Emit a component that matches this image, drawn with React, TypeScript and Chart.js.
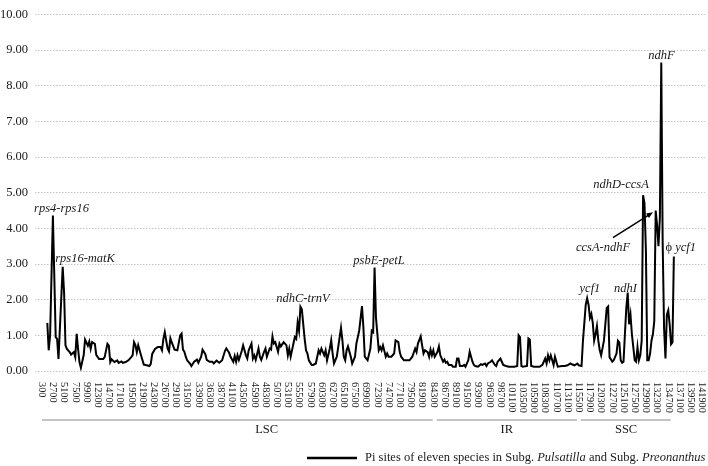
import React, { useEffect, useRef } from 'react';
import { Chart, registerables } from 'chart.js';

Chart.register(...registerables);

// Window mid-points (bp) and nucleotide diversity values (Pi, shown x100 as in source)
const POSITIONS = [
  1500, 1800, 2100, 2700, 3300, 3600, 3900, 4800, 5100, 5400, 5700, 6300, 6600, 7200, 7500, 7800, 8100, 8400, 8700, 9300,
  9600, 10200, 10500, 10800, 11100, 11700, 12000, 12600, 13500, 13800, 14400, 14700, 15000, 15300, 15900, 16500, 16800, 17400, 17700, 18300,
  18900, 19500, 19800, 20100, 20400, 20700, 21000, 21600, 22200, 22800, 23400, 23700, 24000, 24600, 25200, 25800, 26100, 26400, 26700, 27000,
  27300, 27600, 27900, 28200, 28800, 29400, 30000, 30300, 30600, 30900, 31200, 31500, 32100, 32400, 33000, 33600, 33900, 34500, 34800, 35400,
  35700, 36300, 36900, 37200, 37800, 38400, 39000, 39600, 39900, 40500, 40800, 41400, 41700, 42000, 42300, 42600, 43200, 43500, 44100, 44400,
  44700, 45300, 45600, 45900, 46200, 46800, 47100, 47400, 48000, 48300, 48600, 49200, 49500, 49800, 50100, 50400, 51000, 51300, 51600, 52200,
  52800, 53100, 53400, 53700, 54300, 54600, 54900, 55200, 55500, 55800, 56100, 56700, 57000, 57300, 57600, 58200, 58500, 59100, 59700, 60000,
  60300, 60900, 61200, 61500, 62100, 62400, 62700, 63000, 63600, 63900, 64500, 64800, 65100, 65400, 65700, 66000, 66600, 66900, 67500, 67800,
  68400, 69000, 69300, 69600, 70200, 70800, 71100, 71400, 71700, 72000, 72600, 72900, 73200, 73500, 74100, 74400, 74700, 75300, 75900, 76200,
  76800, 77100, 77400, 78000, 78600, 79200, 79800, 80400, 80700, 81000, 81600, 81900, 82200, 82500, 83100, 83400, 83700, 84000, 84300, 84600,
  85200, 85500, 85800, 86400, 86700, 87000, 87300, 87600, 88200, 88500, 89100, 89400, 89700, 90000, 90600, 90900, 91200, 91800, 92100, 92700,
  93000, 93300, 93900, 94500, 94800, 95400, 95700, 96000, 96600, 96900, 97500, 97800, 98100, 98700, 99000, 99300, 99900, 100500, 101100, 101700,
  102300, 102600, 102900, 103200, 103500, 104400, 104700, 105000, 105300, 105900, 106500, 107100, 107700, 108300, 108600, 108900, 109200, 109500, 110100, 110400,
  110700, 111000, 111900, 112500, 113100, 113700, 114000, 114600, 115200, 115500, 116100, 116400, 117000, 117300, 117600, 117900, 118200, 118500, 118800, 119100,
  119400, 119700, 120000, 120300, 120900, 121200, 121500, 121800, 122100, 122700, 123000, 123600, 123900, 124200, 124500, 124800, 125100, 125400, 125700, 126000,
  126300, 126600, 126900, 127200, 127500, 127800, 128100, 128400, 128700, 129000, 129300, 129600, 129900, 130200, 130500, 130800, 131100, 131400, 131700, 132000,
  132300, 132600, 132900, 133200, 133500, 133800, 134100, 134400, 134700, 135000, 135300, 135600, 135900,
];

const PI_VALUES = [
  1.35, 0.58, 1.0, 4.36, 0.95, 0.9, 0.34, 2.92, 2.2, 0.72, 0.62, 0.53, 0.46, 0.53, 0.39, 1.04, 0.62, 0.25, 0.09, 0.44,
  0.88, 0.71, 0.83, 0.62, 0.81, 0.76, 0.45, 0.34, 0.34, 0.39, 0.76, 0.71, 0.25, 0.33, 0.25, 0.3, 0.23, 0.27, 0.23, 0.25,
  0.3, 0.39, 0.44, 0.81, 0.73, 0.53, 0.72, 0.44, 0.18, 0.16, 0.14, 0.2, 0.48, 0.62, 0.67, 0.67, 0.58, 0.9, 1.09, 0.86,
  0.63, 0.55, 0.92, 0.8, 0.6, 0.58, 1.0, 1.05, 0.6, 0.54, 0.4, 0.3, 0.21, 0.14, 0.26, 0.32, 0.23, 0.4, 0.6, 0.47,
  0.31, 0.26, 0.26, 0.21, 0.29, 0.23, 0.3, 0.56, 0.63, 0.51, 0.4, 0.26, 0.42, 0.26, 0.44, 0.31, 0.56, 0.72, 0.44, 0.35,
  0.58, 0.77, 0.35, 0.44, 0.31, 0.63, 0.4, 0.31, 0.54, 0.63, 0.4, 0.63, 0.6, 0.97, 0.77, 0.81, 0.54, 0.77, 0.69, 0.81,
  0.72, 0.44, 0.63, 0.4, 0.77, 0.95, 0.9, 1.36, 1.13, 1.8, 1.73, 0.9, 0.58, 0.49, 0.3, 0.17, 0.17, 0.21, 0.58, 0.49,
  0.63, 0.44, 0.58, 0.3, 0.63, 0.86, 0.49, 0.21, 0.4, 0.67, 1.21, 0.86, 0.4, 0.3, 0.58, 0.69, 0.4, 0.21, 0.4, 0.77,
  1.13, 1.82, 1.23, 0.4, 0.3, 0.63, 1.13, 1.09, 2.9, 1.5, 0.58, 0.67, 0.58, 0.72, 0.4, 0.49, 0.4, 0.4, 0.49, 0.86,
  0.81, 0.53, 0.4, 0.3, 0.3, 0.3, 0.4, 0.63, 0.53, 0.77, 0.97, 0.72, 0.49, 0.58, 0.53, 0.4, 0.6, 0.44, 0.58, 0.4,
  0.54, 0.69, 0.44, 0.26, 0.32, 0.23, 0.26, 0.17, 0.17, 0.12, 0.12, 0.35, 0.35, 0.14, 0.14, 0.17, 0.12, 0.3, 0.54, 0.26,
  0.17, 0.14, 0.12, 0.19, 0.17, 0.21, 0.14, 0.21, 0.26, 0.3, 0.17, 0.14, 0.26, 0.35, 0.26, 0.17, 0.14, 0.12, 0.12, 0.12,
  0.14, 1.0, 0.95, 0.14, 0.12, 0.14, 0.91, 0.88, 0.14, 0.12, 0.12, 0.12, 0.17, 0.35, 0.21, 0.44, 0.3, 0.44, 0.17, 0.4,
  0.26, 0.12, 0.14, 0.14, 0.16, 0.21, 0.19, 0.16, 0.21, 0.16, 0.14, 0.85, 1.86, 2.04, 1.86, 1.49, 1.6, 1.36, 0.85, 1.03,
  1.26, 0.85, 0.58, 0.44, 0.85, 1.31, 1.77, 1.81, 0.39, 0.26, 0.3, 0.49, 0.85, 0.8, 0.3, 0.23, 0.26, 1.03, 1.77, 2.2,
  1.31, 1.58, 1.03, 0.67, 0.3, 0.26, 0.67, 0.3, 0.44, 0.85, 4.93, 4.7, 3.4, 0.3, 0.3, 0.49, 0.85, 1.03, 1.4, 4.5,
  4.1, 3.5, 4.3, 8.65, 3.6, 1.2, 0.35, 1.58, 1.7, 1.31, 0.75, 0.8, 3.21,
];

const X_TICK_LABELS = [
  '300', '2700', '5100', '7500', '9900', '12300', '14700', '17100', '19500', '21900',
  '24300', '26700', '29100', '31500', '33900', '36300', '38700', '41100', '43500', '45900',
  '48300', '50700', '53100', '55500', '57900', '60300', '62700', '65100', '67500', '69900',
  '72300', '74700', '77100', '79500', '81900', '84300', '86700', '89100', '91500', '93900',
  '96300', '98700', '101100', '103500', '105900', '108300', '110700', '113100', '115500', '117900',
  '120300', '122700', '125100', '127500', '129900', '132300', '134700', '137100', '139500', '141900',
];

const REGION_NAMES = ['LSC', 'IR', 'SSC'];
const REGION_STARTS = [360, 85030, 115920];
const REGION_ENDS = [84170, 115120, 135230];
const REGION_LABEL_AT = [48560, 100080, 125650];

const ANNOTATION_TEXTS = ['rps4-rps16', 'rps16-matK', 'ndhC-trnV', 'psbE-petL', 'ndhF', 'ndhD-ccsA', 'ccsA-ndhF', 'ycf1', 'ndhI'];
const ANNOTATION_X = [4550, 9590, 56350, 72650, 133250, 124560, 120700, 117900, 125520];
const ANNOTATION_Y = [4.56, 3.16, 2.03, 3.08, 8.85, 5.23, 3.46, 2.31, 2.31];
const PSEUDO_TEXT = ['ϕ', ' ycf1'];
const PSEUDO_X = 134120;
const PSEUDO_Y = 3.46;

const ARROW_FROM = [122840, 3.74];
const ARROW_TO = [131420, 4.45];

const LEGEND_PARTS = ['Pi sites of eleven species in Subg. ', 'Pulsatilla', ' and Subg. ', 'Preonanthus'];
const LEGEND_ITALIC = [false, true, false, true];

const SERIF = "'Liberation Serif', 'Times New Roman', serif";
const TEXT_COLOR = '#1a1a1a';

const overlayPlugin = {
  id: 'overlay',
  afterDraw(chart: any) {
    const ctx: CanvasRenderingContext2D = chart.ctx;
    const xs = chart.scales.x;
    const ys = chart.scales.y;
    const area = chart.chartArea;
    ctx.save();

    // x tick labels, reading top-to-bottom
    ctx.fillStyle = TEXT_COLOR;
    ctx.font = `10.3px ${SERIF}`;
    ctx.textAlign = 'left';
    ctx.textBaseline = 'middle';
    X_TICK_LABELS.forEach((lab) => {
      const px = xs.getPixelForValue(Number(lab));
      ctx.save();
      ctx.translate(px, area.bottom + 11);
      ctx.rotate(Math.PI / 2);
      ctx.fillText(lab, 0, 0);
      ctx.restore();
    });

    // region bars
    const barY = area.bottom + 49;
    ctx.strokeStyle = '#c4c4c4';
    ctx.lineWidth = 2;
    REGION_NAMES.forEach((name, i) => {
      ctx.beginPath();
      ctx.moveTo(xs.getPixelForValue(REGION_STARTS[i]), barY);
      ctx.lineTo(xs.getPixelForValue(REGION_ENDS[i]), barY);
      ctx.stroke();
      ctx.fillStyle = TEXT_COLOR;
      ctx.font = `12.5px ${SERIF}`;
      ctx.textAlign = 'center';
      ctx.textBaseline = 'middle';
      ctx.fillText(name, xs.getPixelForValue(REGION_LABEL_AT[i]), barY + 10);
    });

    // annotations
    ctx.font = `italic 12.5px ${SERIF}`;
    ctx.textAlign = 'center';
    ctx.textBaseline = 'middle';
    ctx.fillStyle = TEXT_COLOR;
    ANNOTATION_TEXTS.forEach((t, i) => {
      ctx.fillText(t, xs.getPixelForValue(ANNOTATION_X[i]), ys.getPixelForValue(ANNOTATION_Y[i]));
    });
    // pseudogene label
    ctx.textAlign = 'left';
    let px = xs.getPixelForValue(PSEUDO_X);
    const py = ys.getPixelForValue(PSEUDO_Y);
    ctx.font = `12.5px ${SERIF}`;
    ctx.fillText(PSEUDO_TEXT[0], px, py);
    px += ctx.measureText(PSEUDO_TEXT[0]).width;
    ctx.font = `italic 12.5px ${SERIF}`;
    ctx.fillText(PSEUDO_TEXT[1], px, py);

    // arrow
    const ax1 = xs.getPixelForValue(ARROW_FROM[0]);
    const ay1 = ys.getPixelForValue(ARROW_FROM[1]);
    const ax2 = xs.getPixelForValue(ARROW_TO[0]);
    const ay2 = ys.getPixelForValue(ARROW_TO[1]);
    const ang = Math.atan2(ay2 - ay1, ax2 - ax1);
    const head = 7;
    ctx.strokeStyle = '#000';
    ctx.fillStyle = '#000';
    ctx.lineWidth = 1.5;
    ctx.beginPath();
    ctx.moveTo(ax1, ay1);
    ctx.lineTo(ax2 - Math.cos(ang) * head * 0.8, ay2 - Math.sin(ang) * head * 0.8);
    ctx.stroke();
    ctx.beginPath();
    ctx.moveTo(ax2, ay2);
    ctx.lineTo(ax2 - head * Math.cos(ang - 0.4), ay2 - head * Math.sin(ang - 0.4));
    ctx.lineTo(ax2 - head * Math.cos(ang + 0.4), ay2 - head * Math.sin(ang + 0.4));
    ctx.closePath();
    ctx.fill();

    // legend
    const legY = area.bottom + 87;
    ctx.strokeStyle = '#000';
    ctx.lineWidth = 2.5;
    ctx.beginPath();
    ctx.moveTo(307, legY);
    ctx.lineTo(357, legY);
    ctx.stroke();
    ctx.fillStyle = TEXT_COLOR;
    ctx.textAlign = 'left';
    ctx.textBaseline = 'middle';
    let lx = 365;
    LEGEND_PARTS.forEach((part, i) => {
      ctx.font = `${LEGEND_ITALIC[i] ? 'italic ' : ''}12.5px ${SERIF}`;
      ctx.fillText(part, lx, legY);
      lx += ctx.measureText(part).width;
    });

    ctx.restore();
  },
};

export default function App() {
  const canvasRef = useRef<HTMLCanvasElement | null>(null);

  useEffect(() => {
    if (!canvasRef.current) return;
    const chart = new Chart(canvasRef.current, {
      type: 'line',
      data: {
        datasets: [
          {
            label: LEGEND_PARTS.join(''),
            data: POSITIONS.map((x, i) => ({ x, y: PI_VALUES[i] })),
            borderColor: '#000',
            borderWidth: 2,
            pointRadius: 0,
            tension: 0,
            fill: false,
          },
        ],
      },
      options: {
        responsive: false,
        animation: false,
        layout: { padding: { top: 7, right: 3, left: 0, bottom: 95 } },
        plugins: { legend: { display: false }, tooltip: { enabled: false } },
        scales: {
          x: { type: 'linear', display: false, min: -1140, max: 142580 },
          y: {
            min: 0,
            max: 10,
            ticks: {
              stepSize: 1,
              padding: 7,
              color: TEXT_COLOR,
              font: { family: SERIF, size: 12.5 },
              callback: (v: any) => Number(v).toFixed(2),
            },
            grid: { color: '#c4c4c4', drawTicks: false, lineWidth: 1 },
            border: { display: false, dash: [1.5, 1.5] },
            afterFit: (s: any) => {
              s.width = 35;
            },
          },
        },
      },
      plugins: [overlayPlugin],
    } as any);
    return () => chart.destroy();
  }, []);

  return (
    <div style={{ position: 'fixed', left: 0, top: 0, width: 708, height: 466, background: '#fff' }}>
      <canvas ref={canvasRef} width={708} height={466} style={{ display: 'block' }} />
    </div>
  );
}
